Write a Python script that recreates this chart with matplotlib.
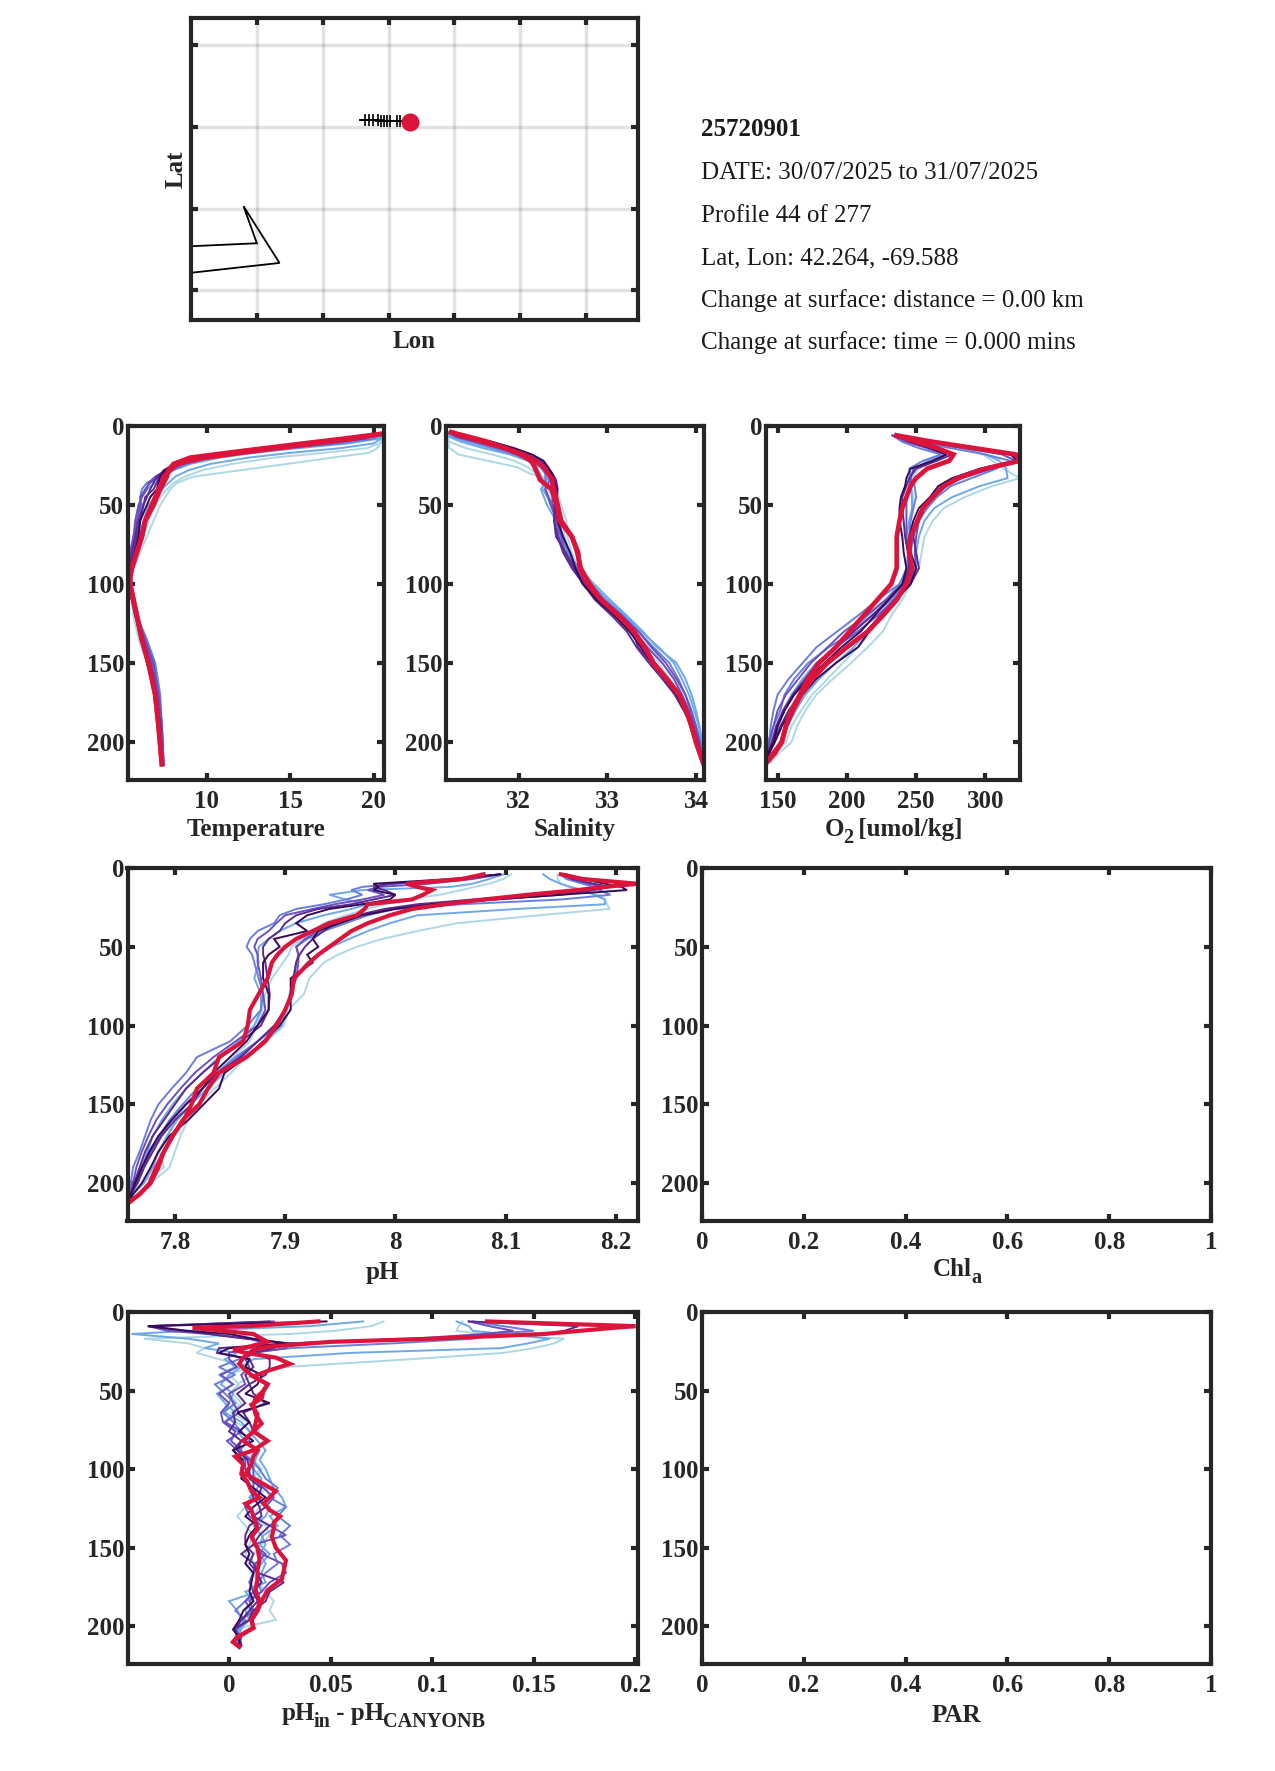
import numpy as np
import matplotlib
matplotlib.use('Agg')
import matplotlib.pyplot as plt

plt.rcParams['font.family'] = ['Liberation Serif', 'DejaVu Serif']
plt.rcParams['font.weight'] = 'bold'
plt.rcParams['axes.labelweight'] = 'bold'

W, H = 1275, 1771
DARK = '#262626'
RED = '#dc143c'
thin_colors = ['#add8e6', '#6fa8e8', '#6a7fdc', '#6a50c0', '#5c2a90', '#360a58']

# map panel
coast_lon = [-71.25, -70.75, -70.851, -70.578, -71.25]
coast_lat = [41.885, 41.894, 42.007, 41.834, 41.804]
track_lon = [-69.962, -69.929, -69.899, -69.866, -69.828, -69.811, -69.788, -69.765, -69.74, -69.689, -69.664, -69.588]
track_lat = [42.270, 42.270, 42.270, 42.269, 42.269, 42.268, 42.268, 42.268, 42.267, 42.267, 42.266, 42.264]
map_xticks = [-70.75, -70.25, -69.75, -69.25, -68.75, -68.25]
map_yticks = [41.75, 42.0, 42.25, 42.5]

info_lines = ['25720901', 'DATE: 30/07/2025 to 31/07/2025', 'Profile 44 of 277', 'Lat, Lon: 42.264, -69.588',
              'Change at surface: distance = 0.00 km', 'Change at surface: time = 0.000 mins']

# temperature
temp_depth = [5, 8, 11, 14, 17, 20, 24, 28, 32, 36, 40, 45, 50, 60, 70, 80, 90, 95, 100, 110, 120, 135, 150, 170, 190, 214]
temp_thin = [
    [20.6, 20.5, 20.4, 20.2, 19.7, 17.5, 14.8, 12.0, 9.2, 8.2, 7.8, 7.5, 7.2, 6.8, 6.4, 6.0, 5.6, 5.5, 5.4, 5.5, 5.6, 5.9, 6.4, 6.9, 7.2, 7.4],
    [20.6, 20.5, 20.3, 19.6, 17.0, 14.0, 11.5, 9.7, 8.7, 8.0, 7.6, 7.2, 6.9, 6.5, 6.2, 5.9, 5.6, 5.5, 5.4, 5.5, 5.6, 6.0, 6.4, 6.9, 7.2, 7.4],
    [20.5, 20.4, 20.0, 18.0, 15.0, 12.5, 10.2, 8.9, 8.1, 7.7, 7.3, 6.9, 6.5, 6.2, 5.9, 5.6, 5.4, 5.3, 5.3, 5.5, 5.7, 6.2, 6.7, 7.0, 7.2, 7.4],
    [20.5, 20.3, 18.5, 15.5, 12.8, 10.8, 9.0, 8.0, 7.4, 6.9, 6.4, 6.1, 6.0, 5.9, 5.7, 5.5, 5.3, 5.3, 5.3, 5.5, 5.8, 6.3, 6.8, 7.1, 7.3, 7.4],
    [20.5, 20.0, 18.0, 15.0, 12.5, 10.2, 8.8, 7.9, 7.2, 6.4, 6.1, 6.0, 6.1, 5.9, 5.6, 5.4, 5.2, 5.3, 5.3, 5.5, 5.8, 6.4, 6.9, 7.2, 7.3, 7.4],
    [20.4, 19.5, 17.5, 14.5, 12.0, 9.8, 8.6, 7.7, 7.1, 6.6, 6.3, 6.0, 6.0, 5.8, 5.6, 5.4, 5.3, 5.3, 5.3, 5.5, 5.8, 6.3, 6.8, 7.1, 7.3, 7.4],
    [20.4, 19.4, 17.0, 14.2, 11.8, 9.6, 8.4, 7.6, 6.9, 6.5, 6.4, 6.1, 5.9, 5.7, 5.6, 5.5, 5.3, 5.3, 5.3, 5.5, 5.7, 6.2, 6.7, 7.1, 7.3, 7.4],
    [20.4, 19.2, 16.8, 14.0, 11.5, 9.3, 8.3, 7.5, 7.0, 6.8, 6.6, 6.4, 6.2, 5.9, 5.7, 5.5, 5.3, 5.3, 5.3, 5.5, 5.8, 6.2, 6.6, 7.0, 7.2, 7.3],
    [20.3, 19.0, 16.4, 13.6, 11.2, 9.0, 8.1, 7.4, 7.1, 7.0, 6.8, 6.3, 6.2, 6.0, 5.8, 5.6, 5.4, 5.3, 5.3, 5.5, 5.7, 6.1, 6.4, 6.9, 7.2, 7.3],
    [20.3, 18.8, 16.0, 13.0, 11.0, 8.9, 8.0, 7.5, 7.2, 7.1, 7.0, 6.6, 6.4, 6.0, 5.9, 5.7, 5.4, 5.3, 5.4, 5.6, 5.8, 6.1, 6.5, 6.9, 7.2, 7.3],
]
temp_red = [
    [20.5, 18.7, 16.5, 14.2, 12.0, 9.9, 8.2, 7.8, 7.4, 7.3, 7.1, 6.9, 6.7, 6.3, 6.1, 5.8, 5.5, 5.4, 5.4, 5.6, 5.8, 6.1, 6.5, 6.9, 7.1, 7.3],
    [20.4, 18.2, 15.8, 13.5, 11.2, 9.0, 8.0, 7.7, 7.6, 7.4, 7.2, 7.0, 6.8, 6.3, 6.1, 5.8, 5.5, 5.4, 5.4, 5.6, 5.8, 6.1, 6.5, 6.9, 7.1, 7.3],
]

# salinity
sal_depth = [4, 7, 10, 14, 18, 22, 26, 30, 34, 40, 50, 60, 70, 80, 90, 100, 110, 120, 130, 140, 150, 160, 170, 180, 190, 200, 213]
sal_thin = [
    [31.2, 31.2, 31.2, 31.22, 31.32, 31.65, 31.98, 32.12, 32.38, 32.43, 32.48, 32.54, 32.55, 32.6, 32.66, 32.76, 32.92, 33.08, 33.25, 33.42, 33.58, 33.7, 33.8, 33.87, 33.95, 34.03, 34.08],
    [31.2, 31.2, 31.22, 31.4, 31.7, 31.95, 32.1, 32.2, 32.3, 32.33, 32.42, 32.5, 32.52, 32.57, 32.64, 32.75, 32.9, 33.1, 33.3, 33.48, 33.62, 33.75, 33.85, 33.92, 34.0, 34.06, 34.09],
    [31.2, 31.22, 31.35, 31.6, 31.9, 32.1, 32.2, 32.24, 32.27, 32.27, 32.38, 32.44, 32.5, 32.58, 32.66, 32.82, 33.0, 33.2, 33.38, 33.58, 33.75, 33.84, 33.92, 33.98, 34.03, 34.07, 34.09],
    [31.2, 31.25, 31.42, 31.68, 31.92, 32.12, 32.24, 32.3, 32.32, 32.25, 32.32, 32.42, 32.47, 32.56, 32.68, 32.85, 33.03, 33.22, 33.4, 33.56, 33.78, 33.88, 33.95, 34.0, 34.04, 34.07, 34.09],
    [31.2, 31.28, 31.48, 31.72, 31.95, 32.15, 32.25, 32.3, 32.3, 32.3, 32.38, 32.45, 32.5, 32.55, 32.67, 32.82, 32.97, 33.18, 33.35, 33.52, 33.7, 33.8, 33.88, 33.95, 34.0, 34.05, 34.08],
    [31.22, 31.32, 31.52, 31.78, 32.0, 32.18, 32.28, 32.33, 32.35, 32.3, 32.36, 32.43, 32.45, 32.52, 32.62, 32.78, 32.96, 33.16, 33.35, 33.5, 33.66, 33.78, 33.88, 33.94, 34.0, 34.04, 34.08],
    [31.22, 31.3, 31.55, 31.8, 32.0, 32.2, 32.3, 32.35, 32.35, 32.38, 32.38, 32.42, 32.48, 32.52, 32.65, 32.75, 32.93, 33.13, 33.3, 33.45, 33.62, 33.75, 33.84, 33.92, 33.98, 34.03, 34.08],
    [31.23, 31.36, 31.6, 31.88, 32.1, 32.25, 32.33, 32.38, 32.42, 32.44, 32.42, 32.4, 32.44, 32.5, 32.6, 32.73, 32.86, 33.05, 33.22, 33.33, 33.47, 33.62, 33.76, 33.86, 33.95, 34.02, 34.08],
    [31.24, 31.35, 31.62, 31.88, 32.07, 32.22, 32.3, 32.36, 32.4, 32.43, 32.4, 32.4, 32.42, 32.53, 32.62, 32.74, 32.9, 33.1, 33.28, 33.35, 33.5, 33.65, 33.78, 33.88, 33.96, 34.02, 34.08],
    [31.24, 31.4, 31.7, 31.95, 32.15, 32.28, 32.33, 32.37, 32.4, 32.43, 32.42, 32.44, 32.5, 32.58, 32.64, 32.72, 32.88, 33.08, 33.25, 33.38, 33.5, 33.65, 33.78, 33.88, 33.96, 34.02, 34.08],
]
sal_red = [
    [31.24, 31.45, 31.65, 31.85, 32.02, 32.14, 32.18, 32.21, 32.24, 32.37, 32.43, 32.46, 32.6, 32.67, 32.69, 32.78, 32.93, 33.13, 33.3, 33.42, 33.52, 33.67, 33.81, 33.89, 33.95, 34.0, 34.08],
    [31.24, 31.4, 31.6, 31.85, 32.05, 32.19, 32.28, 32.33, 32.38, 32.4, 32.44, 32.48, 32.6, 32.66, 32.7, 32.8, 32.93, 33.13, 33.3, 33.42, 33.52, 33.67, 33.81, 33.89, 33.95, 34.0, 34.08],
]

# oxygen
o2_depth = [6, 10, 14, 18, 22, 27, 33, 38, 45, 52, 60, 70, 80, 90, 100, 110, 120, 130, 140, 150, 160, 170, 180, 190, 200, 207, 213]
o2_thin = [
    [243, 262, 285, 298, 305, 313, 325, 305, 285, 270, 262, 256, 254, 252, 246, 240, 232, 226, 215, 203, 190, 178, 170, 164, 160, 151, 145],
    [243, 248, 262, 272, 262, 252, 247, 247, 248, 248, 246, 245, 247, 247, 243, 235, 225, 218, 208, 197, 186, 175, 167, 160, 156, 149, 145],
    [240, 258, 282, 300, 310, 315, 316, 296, 276, 263, 256, 252, 250, 249, 245, 236, 226, 215, 205, 192, 180, 170, 163, 157, 152, 147, 143],
    [240, 245, 258, 270, 258, 250, 245, 246, 247, 247, 245, 243, 244, 243, 238, 228, 215, 205, 192, 178, 168, 160, 154, 149, 145, 144, 143],
    [233, 250, 275, 300, 318, 308, 290, 275, 265, 258, 252, 248, 246, 246, 243, 232, 218, 205, 187, 172, 162, 155, 152, 147, 143, 142, 142],
    [233, 240, 252, 268, 255, 245, 246, 249, 250, 248, 246, 245, 245, 244, 238, 222, 208, 193, 178, 168, 158, 150, 147, 145, 144, 142, 142],
    [233, 255, 285, 312, 322, 305, 283, 272, 263, 256, 252, 250, 249, 250, 244, 234, 222, 208, 192, 178, 170, 161, 155, 150, 146, 143, 142],
    [233, 243, 258, 272, 262, 248, 246, 245, 243, 243, 243, 243, 245, 245, 240, 228, 214, 198, 186, 174, 165, 156, 150, 147, 144, 143, 142],
    [235, 256, 290, 318, 323, 300, 280, 268, 262, 254, 250, 248, 250, 252, 246, 236, 224, 214, 200, 186, 176, 166, 158, 152, 147, 144, 142],
    [235, 246, 262, 276, 265, 250, 245, 243, 240, 240, 241, 242, 244, 245, 241, 230, 218, 205, 192, 180, 170, 161, 154, 149, 146, 143, 142],
    [236, 258, 292, 320, 322, 296, 276, 266, 260, 252, 248, 245, 246, 250, 246, 235, 225, 216, 208, 192, 178, 168, 160, 153, 148, 144, 142],
    [236, 246, 260, 272, 262, 246, 243, 242, 239, 238, 238, 240, 241, 243, 240, 230, 220, 210, 196, 184, 172, 162, 155, 150, 147, 143, 142],
]
o2_red = [
    [236, 262, 292, 322, 325, 300, 280, 270, 262, 255, 251, 246, 245, 247, 243, 236, 226, 215, 200, 186, 175, 167, 161, 156, 153, 148, 142],
    [236, 250, 265, 277, 274, 258, 250, 246, 243, 240, 238, 236, 236, 236, 232, 222, 212, 202, 192, 180, 172, 166, 160, 156, 153, 147, 142],
]

# pH
ph_depth = [4, 7, 10, 12, 14, 17, 20, 23, 26, 30, 35, 40, 45, 50, 55, 60, 70, 80, 90, 100, 110, 120, 130, 140, 150, 160, 170, 180, 190, 200, 207, 213]
ph_thin = [
    [8.147, 8.147, 8.15, 8.16, 8.17, 8.185, 8.19, 8.192, 8.194, 8.13, 8.056, 8.02, 7.988, 7.965, 7.948, 7.935, 7.922, 7.917, 7.903, 7.899, 7.883, 7.865, 7.851, 7.836, 7.822, 7.812, 7.805, 7.8, 7.795, 7.778, 7.765, 7.758],
    [8.105, 8.098, 8.085, 8.072, 8.06, 8.04, 8.01, 7.99, 7.975, 7.955, 7.935, 7.925, 7.915, 7.906, 7.903, 7.898, 7.888, 7.882, 7.879, 7.874, 7.868, 7.853, 7.838, 7.824, 7.81, 7.8, 7.793, 7.786, 7.79, 7.77, 7.762, 7.758],
    [8.134, 8.14, 8.15, 8.158, 8.17, 8.18, 8.19, 8.19, 8.11, 8.02, 7.995, 7.975, 7.958, 7.942, 7.93, 7.92, 7.908, 7.904, 7.901, 7.897, 7.882, 7.862, 7.845, 7.829, 7.815, 7.802, 7.793, 7.785, 7.78, 7.772, 7.762, 7.758],
    [8.098, 8.085, 8.07, 8.05, 7.97, 7.94, 7.955, 7.975, 7.96, 7.935, 7.91, 7.895, 7.885, 7.876, 7.875, 7.876, 7.872, 7.878, 7.878, 7.872, 7.858, 7.84, 7.825, 7.81, 7.798, 7.788, 7.78, 7.775, 7.77, 7.765, 7.76, 7.757],
    [8.15, 8.155, 8.17, 8.18, 8.185, 8.195, 8.15, 8.06, 8.0, 7.975, 7.955, 7.935, 7.92, 7.91, 7.912, 7.91, 7.907, 7.906, 7.9, 7.892, 7.875, 7.855, 7.838, 7.82, 7.807, 7.795, 7.786, 7.776, 7.77, 7.765, 7.76, 7.757],
    [8.095, 8.06, 8.0, 7.97, 7.96, 7.97, 7.955, 7.935, 7.91, 7.895, 7.89, 7.875, 7.868, 7.865, 7.87, 7.872, 7.876, 7.88, 7.878, 7.866, 7.85, 7.82, 7.81, 7.797, 7.785, 7.778, 7.773, 7.768, 7.762, 7.76, 7.758, 7.757],
    [8.15, 8.16, 8.175, 8.19, 8.18, 8.15, 8.09, 8.03, 7.995, 7.97, 7.945, 7.93, 7.918, 7.91, 7.912, 7.912, 7.91, 7.905, 7.9, 7.893, 7.875, 7.858, 7.84, 7.825, 7.81, 7.797, 7.787, 7.778, 7.772, 7.766, 7.76, 7.757],
    [8.095, 8.07, 8.03, 7.985, 7.975, 7.99, 7.97, 7.945, 7.925, 7.9, 7.892, 7.885, 7.875, 7.872, 7.875, 7.875, 7.878, 7.88, 7.882, 7.875, 7.855, 7.835, 7.818, 7.805, 7.793, 7.783, 7.776, 7.77, 7.765, 7.762, 7.759, 7.757],
    [8.15, 8.16, 8.18, 8.195, 8.18, 8.13, 8.07, 8.02, 7.99, 7.965, 7.945, 7.935, 7.925, 7.918, 7.913, 7.91, 7.908, 7.905, 7.9, 7.89, 7.875, 7.86, 7.838, 7.825, 7.815, 7.8, 7.788, 7.78, 7.772, 7.766, 7.76, 7.757],
    [8.095, 8.06, 7.995, 7.98, 7.99, 8.0, 7.98, 7.96, 7.93, 7.91, 7.9, 7.895, 7.885, 7.88, 7.88, 7.882, 7.884, 7.886, 7.885, 7.878, 7.86, 7.842, 7.825, 7.81, 7.8, 7.79, 7.78, 7.773, 7.768, 7.763, 7.76, 7.757],
    [8.155, 8.17, 8.19, 8.205, 8.21, 8.15, 8.09, 8.035, 8.0, 7.97, 7.95, 7.93, 7.925, 7.93, 7.92, 7.925, 7.905, 7.905, 7.905, 7.895, 7.88, 7.865, 7.845, 7.84, 7.826, 7.812, 7.795, 7.785, 7.778, 7.77, 7.762, 7.757],
    [8.095, 8.05, 7.98, 7.985, 7.98, 8.0, 7.995, 7.97, 7.94, 7.92, 7.91, 7.92, 7.89, 7.895, 7.885, 7.88, 7.88, 7.885, 7.885, 7.875, 7.865, 7.85, 7.835, 7.825, 7.81, 7.797, 7.785, 7.777, 7.77, 7.764, 7.76, 7.757],
]
ph_red = [
    [8.15, 8.17, 8.22, 8.19, 8.165, 8.12, 8.08, 8.045, 8.015, 7.995, 7.975, 7.96, 7.95, 7.94, 7.93, 7.922, 7.908, 7.906, 7.9, 7.892, 7.882, 7.865, 7.84, 7.83, 7.822, 7.807, 7.798, 7.79, 7.785, 7.778, 7.768, 7.757],
    [8.08, 8.06, 8.01, 8.02, 8.033, 8.025, 8.015, 7.975, 7.972, 7.965, 7.94, 7.925, 7.91, 7.9, 7.893, 7.888, 7.884, 7.876, 7.868, 7.866, 7.862, 7.84, 7.835, 7.82, 7.815, 7.808, 7.798, 7.79, 7.783, 7.777, 7.768, 7.757],
]

# pH difference
diff_depth = [6, 9, 12, 14, 17, 20, 23, 26, 30, 35, 40, 46, 52, 58, 64, 70, 76, 82, 88, 94, 100, 106, 112, 118, 124, 130, 136, 142, 148, 154, 160, 166, 172, 178, 184, 190, 196, 202, 207, 212]
diff_thin = [
    [.115, .113, .112, .125, .165, .16, .15, .135, .09, .028, .012, .004, .002, .006, .001, .009, .015, .009, .013, .012, .016, .014, .02, .011, .008, .004, .008, .012, .01, .008, .013, .012, .014, .018, .022, .02, .023, .002, .006, .005],
    [.076, .07, .052, .03, -.042, -.02, -.012, -.016, -.005, .01, .0, .005, .0, .004, -.003, .003, .012, .017, .012, .01, .015, .012, .018, .02, .015, .012, .018, .02, .016, .012, .008, .011, .015, .013, .016, .012, .009, .004, .003, .006],
    [.112, .118, .12, .135, .158, .147, .134, .06, .012, .006, .0, -.004, .002, .0, -.002, .006, .01, .014, .018, .015, .018, .02, .022, .026, .028, .02, .024, .017, .015, .02, .016, .012, .01, .014, .0, .004, .007, .006, .004, .006],
    [.066, .04, -.02, -.048, -.02, -.005, -.012, .004, -.002, .003, -.005, .002, -.006, -.002, .003, -.002, .004, .008, .015, .013, .012, .016, .014, .01, .02, .018, .012, .016, .018, .015, .018, .016, .018, .008, .012, .008, .01, .005, .004, .005],
    [.12, .135, .15, .128, .12, .08, .03, .01, .005, -.005, .003, -.007, -.002, .003, -.003, .002, .006, .01, .005, .011, .015, .018, .024, .02, .028, .024, .03, .025, .03, .022, .024, .018, .014, .016, .008, .003, .008, .004, .004, .005],
    [.022, -.04, -.03, -.01, .01, .018, .01, .0, .0, .004, -.004, .002, -.005, .0, -.004, -.003, .003, .001, .006, .008, .008, .012, .012, .014, .008, .01, .016, .012, .012, .018, .013, .012, .01, .012, .008, .011, .01, .003, .005, .006],
    [.118, .128, .14, .125, .09, .03, .028, .012, .008, .01, .006, .008, .0, .002, .005, -.002, .006, -.001, .004, .01, .012, .012, .017, .022, .018, .026, .02, .028, .012, .016, .026, .028, .02, .016, .01, .012, .006, .003, .006, .005],
    [.02, -.04, -.022, -.01, .008, .03, -.005, -.006, .01, .012, .008, .01, .004, .008, .002, .003, .0, .006, .002, .007, .006, .008, .01, .012, .015, .016, .01, .008, .008, .012, .01, .014, .016, .012, .014, .01, .006, .003, .004, .006],
    [.118, .172, .165, .155, .09, .028, .022, .012, .02, .02, .018, .01, .012, .018, .007, .01, .012, .006, .004, .009, .01, .01, .016, .014, .018, .012, .02, .015, .012, .006, .012, .014, .027, .02, .018, .012, .01, .002, .005, .006],
    [.048, -.04, -.02, .0, .012, .028, .0, -.005, .01, .008, .016, .014, .008, .02, .004, .01, .005, .012, .002, .006, .007, .006, .012, .018, .012, .008, .014, .01, .008, .01, .008, .012, .011, .01, .012, .007, .005, .002, .005, .005],
]
diff_red_depth = [6, 9, 10, 14, 17, 19, 22, 24, 26, 29, 33, 37, 41, 46, 50, 55, 59, 65, 71, 76, 82, 88, 92, 97, 103, 108, 114, 118, 122, 126, 130, 134, 138, 143, 150, 158, 164, 170, 177, 184, 190, 196, 201, 207, 210, 213]
diff_red = [
    [.127, .2, .19, .155, .1, .05, .02, .012, .01, .007, .005, .008, .012, .019, .017, .013, .012, .013, .016, .012, .007, .014, .012, .011, .008, .015, .023, .02, .017, .02, .025, .022, .022, .021, .023, .028, .027, .026, .019, .016, .014, .011, .012, .004, .002, .005],
    [.044, .01, -.018, .012, .016, .019, .01, .002, .008, .023, .03, .02, .012, .019, .017, .016, .011, .014, .013, .012, .019, .012, .003, .007, .006, .009, .011, .015, .008, .011, .012, .013, .014, .011, .014, .015, .014, .014, .013, .015, .014, .011, .012, .004, .002, .005],
]

depth_ticks = [0, 50, 100, 150, 200]
DEPTH_MAX = 224


def make_axes(fig, left, right, top, bottom):
    ax = fig.add_axes([left / W, 1 - bottom / H, (right - left) / W, (bottom - top) / H])
    for s in ax.spines.values():
        s.set_linewidth(3)
        s.set_color(DARK)
    ax.tick_params(direction='in', length=5, width=3, color=DARK, top=True, right=True,
                   labelsize=18, labelcolor=DARK)
    ax.tick_params(axis='x', pad=7)
    ax.tick_params(axis='y', pad=2.5)
    return ax


def profile_panel(fig, box, thin, red, depth, xlim, xticks, xticklabels, xlabel, red_depth=None, red_lw=3.4, labelpad=3.5):
    ax = make_axes(fig, *box)
    for i, row in enumerate(thin):
        c = thin_colors[i * len(thin_colors) // len(thin)]
        ax.plot(row, depth, color=c, lw=1.4, solid_joinstyle='miter')
    for row in red:
        ax.plot(row, depth if red_depth is None else red_depth, color=RED, lw=red_lw, solid_joinstyle='miter')
    empty_panel(ax, xlim, xticks, xticklabels, xlabel, labelpad)
    return ax


def empty_panel(ax, xlim, xticks, xticklabels, xlabel, labelpad=5):
    ax.set_xlim(*xlim)
    ax.set_ylim(DEPTH_MAX, 0)
    ax.set_xticks(xticks)
    ax.set_xticklabels(xticklabels)
    ax.set_yticks(depth_ticks)
    ax.set_xlabel(xlabel, fontsize=18, color=DARK, labelpad=labelpad)


def sub_label(fig, box, parts, baseline):
    # label with real subscripts, centred under the axes; the subscript is bigger than mathtext gives
    renderer = fig.canvas.get_renderer()
    texts = []
    total = 0
    for s, is_sub in parts:
        t = fig.text(0, 0, s, fontsize=14.5 if is_sub else 18, color=DARK, fontweight='bold', va='baseline')
        w = t.get_window_extent(renderer).width + (2 if s.endswith(' ') else -1)
        texts.append((t, is_sub, w))
        total += w
    x = (box[0] + box[1]) / 2 - total / 2
    for t, is_sub, w in texts:
        y = baseline + (7 if is_sub else 0)
        t.set_position((x / W, 1 - y / H))
        x += w


fig = plt.figure(figsize=(W / 100, H / 100), dpi=100)

# map
ax = make_axes(fig, 191, 638, 18, 320)
ax.set_xlim(-71.25, -67.856)
ax.set_ylim(41.66, 42.581)
ax.set_xticks(map_xticks)
ax.set_yticks(map_yticks)
ax.set_xticklabels([])
ax.set_yticklabels([])
ax.grid(True, color=DARK, alpha=0.13, lw=2.5)
ax.set_axisbelow(True)
ax.plot(coast_lon, coast_lat, color='k', lw=1.3, solid_joinstyle='miter')
ax.plot(track_lon, track_lat, color='k', lw=1.2)
ax.plot(track_lon[1:], track_lat[1:], 'k+', ms=8, mew=1.2)
ax.plot(track_lon[-1], track_lat[-1], 'o', color=RED, ms=13, mec='none')
ax.set_xlabel('Lon', fontsize=18, color=DARK, labelpad=0)
ax.set_ylabel('Lat', fontsize=18, color=DARK, labelpad=0)

# info text
info_y = [130, 173, 216, 258, 301, 343]
for i, (s, y) in enumerate(zip(info_lines, info_y)):
    fig.text(701 / W, 1 - y / H, s, fontsize=18, color='#1a1a1a', va='center',
             fontweight='bold' if i == 0 else 'normal')

row1 = (426, 780)
profile_panel(fig, (127.5, 384, *row1), temp_thin, temp_red, temp_depth, (5.24, 20.6), [10, 15, 20],
              ['10', '15', '20'], 'Temperature')
profile_panel(fig, (446, 704, *row1), sal_thin, sal_red, sal_depth, (31.18, 34.09), [32, 33, 34],
              ['32', '33', '34'], 'Salinity')
o2_box = (766, 1020, *row1)
profile_panel(fig, o2_box, o2_thin, o2_red, o2_depth, (141.6, 325), [150, 200, 250, 300],
              ['150', '200', '250', '300'], '')
sub_label(fig, o2_box, [('O', False), ('2', True), (' [umol/kg]', False)], 836)

unit_ticks = [0, 0.2, 0.4, 0.6, 0.8, 1]
unit_labels = ['0', '0.2', '0.4', '0.6', '0.8', '1']

profile_panel(fig, (127.5, 638, 868, 1221), ph_thin, ph_red, ph_depth, (7.757, 8.22), [7.8, 7.9, 8, 8.1, 8.2],
              ['7.8', '7.9', '8', '8.1', '8.2'], 'pH', red_lw=3, labelpad=5)
chl_box = (702, 1211, 868, 1221)
ax = make_axes(fig, *chl_box)
empty_panel(ax, (0, 1), unit_ticks, unit_labels, '')
sub_label(fig, chl_box, [('Chl', False), ('a', True)], 1276)

diff_box = (127.5, 638, 1312, 1664)
profile_panel(fig, diff_box, diff_thin, diff_red, diff_depth, (-0.05, 0.2013), [0, 0.05, 0.1, 0.15, 0.2],
              ['0', '0.05', '0.1', '0.15', '0.2'], '', red_depth=diff_red_depth, red_lw=3)
sub_label(fig, diff_box, [('pH', False), ('in', True), (' - pH', False), ('CANYONB', True)], 1720)
ax = make_axes(fig, 702, 1211, 1312, 1664)
empty_panel(ax, (0, 1), unit_ticks, unit_labels, 'PAR')

fig.savefig('out.png', dpi=100)
